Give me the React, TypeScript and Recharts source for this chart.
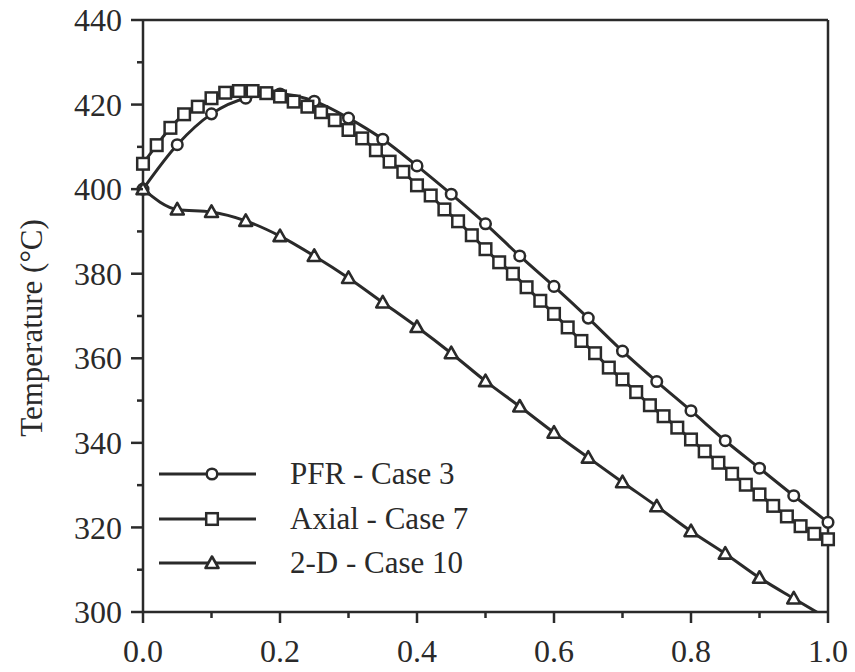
import { Label, Legend, Line, LineChart, ReferenceLine, XAxis, YAxis } from 'recharts';

// distance along reactor (dimensionless) and temperature in degC
const pfrX = [0, 0.05, 0.1, 0.15, 0.2, 0.25, 0.3, 0.35, 0.4, 0.45, 0.5, 0.55, 0.6, 0.65, 0.7, 0.75, 0.8, 0.85, 0.9, 0.95, 1.0];
const pfrT = [400, 410.5, 417.8, 421.5, 422.5, 420.8, 416.8, 411.8, 405.5, 398.8, 391.8, 384.2, 377, 369.5, 361.7, 354.5, 347.6, 340.5, 334, 327.5, 321.2];

const axialX = [
  0, 0.02, 0.04, 0.06, 0.08, 0.1, 0.12, 0.14, 0.16, 0.18, 0.2, 0.22, 0.24, 0.26, 0.28, 0.3, 0.32, 0.34, 0.36, 0.38,
  0.4, 0.42, 0.44, 0.46, 0.48, 0.5, 0.52, 0.54, 0.56, 0.58, 0.6, 0.62, 0.64, 0.66, 0.68, 0.7, 0.72, 0.74, 0.76, 0.78,
  0.8, 0.82, 0.84, 0.86, 0.88, 0.9, 0.92, 0.94, 0.96, 0.98, 1.0,
];
const axialT = [
  406, 410.4, 414.5, 417.7, 419.5, 421.5, 422.8, 423.2, 423.2, 422.7, 421.9, 420.7, 419.5, 418.2, 416.3, 414, 412, 409.2, 406.5, 404.1,
  400.9, 398.5, 395.2, 392.4, 389.1, 385.8, 382.7, 380, 376.8, 373.6, 370.5, 367.3, 364.1, 361.2, 357.8, 355, 352, 348.9, 346.3, 343.6,
  340.8, 338, 335.3, 332.7, 330.1, 327.8, 325.1, 322.6, 320.3, 318.5, 317.2,
];

const twoDX = [0, 0.05, 0.1, 0.15, 0.2, 0.25, 0.3, 0.35, 0.4, 0.45, 0.5, 0.55, 0.6, 0.65, 0.7, 0.75, 0.8, 0.85, 0.9, 0.95, 1.0];
const twoDT = [400, 395.2, 394.6, 392.5, 388.9, 384.2, 379, 373.2, 367.4, 361.2, 354.6, 348.6, 342.4, 336.5, 330.7, 325, 319.1, 313.8, 308.1, 303.2, 298.4];

const xTicks = [0, 0.1, 0.2, 0.3, 0.4, 0.5, 0.6, 0.7, 0.8, 0.9, 1.0];
const yTicks = [300, 310, 320, 330, 340, 350, 360, 370, 380, 390, 400, 410, 420, 430, 440];

const seriesNames = ['PFR - Case 3', 'Axial - Case 7', '2-D - Case 10'];

const INK = '#2a2a2a';
const FONT = '"Liberation Serif", "Times New Roman", serif';

const pfrData = pfrX.map((x, i) => ({ x, t: pfrT[i] }));
const axialData = axialX.map((x, i) => ({ x, t: axialT[i] }));
const twoDData = twoDX.map((x, i) => ({ x, t: twoDT[i] }));

type Shape = 'circle' | 'square' | 'triangle';

const Marker = ({ shape, cx, cy }: { shape: Shape; cx: number; cy: number }) => {
  if (shape === 'circle') {
    return <circle cx={cx} cy={cy} r={5.3} fill="#fff" stroke={INK} strokeWidth={2.5} />;
  }
  if (shape === 'square') {
    return <rect x={cx - 5.8} y={cy - 5.8} width={11.6} height={11.6} fill="#fff" stroke={INK} strokeWidth={2.5} />;
  }
  return (
    <polygon
      points={`${cx},${cy - 6.5} ${cx - 6.5},${cy + 5} ${cx + 6.5},${cy + 5}`}
      fill="#fff"
      stroke={INK}
      strokeWidth={2.6}
      strokeLinejoin="round"
    />
  );
};

const makeDot = (shape: Shape) => (props: any) => {
  const { cx, cy, index, payload } = props;
  if (cx == null || cy == null || payload.t < 300) return <g key={`${shape}-${index}`} />;
  return (
    <g key={`${shape}-${index}`}>
      <Marker shape={shape} cx={cx} cy={cy} />
    </g>
  );
};

const XTick = ({ x, y, payload }: any) => {
  const major = Math.round(payload.value * 10) % 2 === 0;
  return (
    <g>
      <line x1={x} x2={x} y1={y} y2={y + (major ? 11 : 6)} stroke={INK} strokeWidth={2.5} />
      {major && (
        <text x={x} y={y + 50} textAnchor="middle" fontFamily={FONT} fontSize={32} fill={INK}>
          {payload.value.toFixed(1)}
        </text>
      )}
    </g>
  );
};

const YTick = ({ x, y, payload }: any) => {
  const major = payload.value % 20 === 0;
  return (
    <g>
      <line x1={x} x2={x - (major ? 12 : 6)} y1={y} y2={y} stroke={INK} strokeWidth={2.5} />
      {major && (
        <text x={x - 21} y={y} dy="0.35em" textAnchor="end" fontFamily={FONT} fontSize={32} fill={INK}>
          {payload.value}
        </text>
      )}
    </g>
  );
};

const shapes: Shape[] = ['circle', 'square', 'triangle'];

const LegendBox = () => (
  <div style={{ fontFamily: FONT, color: INK }}>
    {seriesNames.map((name, i) => (
      <div key={name} style={{ display: 'flex', alignItems: 'center', height: 44.5 }}>
        <svg width={100} height={20} style={{ display: 'block' }}>
          <line x1={1} x2={98} y1={10} y2={10} stroke={INK} strokeWidth={3} />
          <Marker shape={shapes[i]} cx={54} cy={10} />
        </svg>
        <span style={{ marginLeft: 32, fontSize: 31, lineHeight: '44px' }}>{name}</span>
      </div>
    ))}
  </div>
);

export default function App() {
  return (
    <div style={{ position: 'absolute', left: 0, top: 0, width: 855, height: 672, background: '#fff' }}>
      <LineChart width={855} height={672} margin={{ top: 20, right: 27, bottom: 0, left: 0 }}>
        <XAxis
          type="number"
          dataKey="x"
          domain={[0, 1]}
          ticks={xTicks}
          tick={<XTick />}
          tickSize={0}
          tickMargin={0}
          tickLine={false}
          axisLine={{ stroke: INK, strokeWidth: 2.5 }}
          height={60}
          allowDuplicatedCategory={false}
        />
        <YAxis
          type="number"
          dataKey="t"
          domain={[300, 440]}
          allowDataOverflow
          ticks={yTicks}
          interval={0}
          tick={<YTick />}
          tickSize={0}
          tickMargin={0}
          tickLine={false}
          axisLine={{ stroke: INK, strokeWidth: 2.5 }}
          width={143}
        >
          <Label
            content={({ viewBox }: any) => {
              const cx = 31;
              const cy = viewBox.y + viewBox.height / 2 + 12;
              return (
                <text
                  x={cx}
                  y={cy}
                  transform={`rotate(-90, ${cx}, ${cy})`}
                  textAnchor="middle"
                  dominantBaseline="central"
                  fontFamily={FONT}
                  fontSize={31}
                  fill={INK}
                >
                  Temperature (°C)
                </text>
              );
            }}
          />
        </YAxis>
        <ReferenceLine y={440} stroke={INK} strokeWidth={2.5} />
        <ReferenceLine x={1} stroke={INK} strokeWidth={2.5} />
        <Legend
          layout="vertical"
          align="center"
          verticalAlign="middle"
          wrapperStyle={{ left: 158, top: 452, width: 320 }}
          content={<LegendBox />}
        />
        <Line
          data={pfrData}
          dataKey="t"
          name={seriesNames[0]}
          type="monotone"
          stroke={INK}
          strokeWidth={3}
          dot={makeDot('circle')}
          activeDot={false}
          isAnimationActive={false}
        />
        <Line
          data={axialData}
          dataKey="t"
          name={seriesNames[1]}
          type="monotone"
          stroke={INK}
          strokeWidth={3}
          dot={makeDot('square')}
          activeDot={false}
          isAnimationActive={false}
        />
        <Line
          data={twoDData}
          dataKey="t"
          name={seriesNames[2]}
          type="monotone"
          stroke={INK}
          strokeWidth={3}
          dot={makeDot('triangle')}
          activeDot={false}
          isAnimationActive={false}
        />
      </LineChart>
    </div>
  );
}
